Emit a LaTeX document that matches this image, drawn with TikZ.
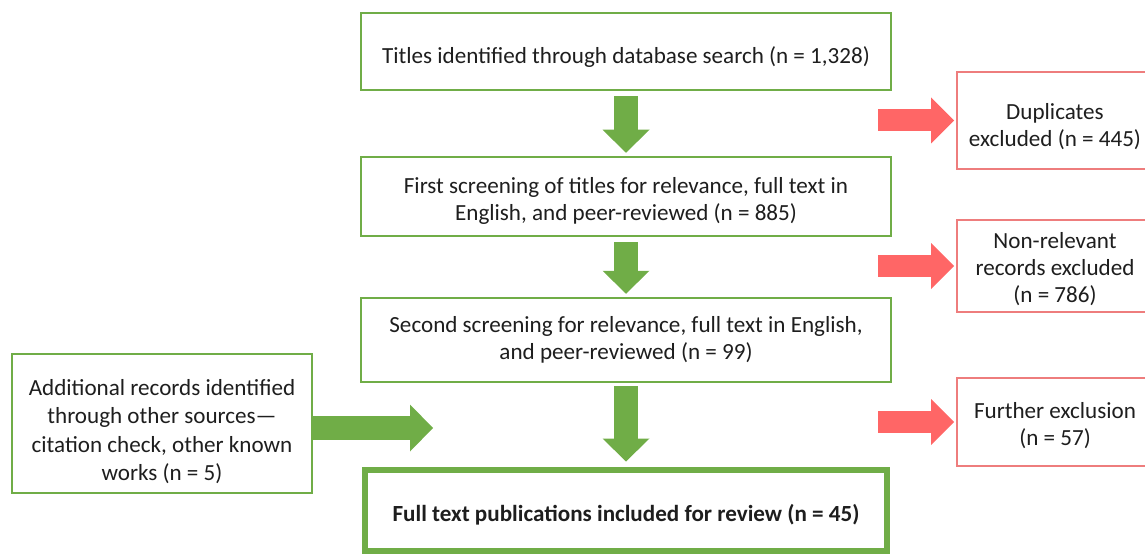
\documentclass[tikz,border=0pt]{standalone}
\usepackage{fontspec}
\setmainfont{Carlito}
\usetikzlibrary{arrows.meta}
\definecolor{flowgreen}{RGB}{112,173,71}
\definecolor{flowred}{RGB}{255,102,102}
\definecolor{boxred}{RGB}{238,125,125}
\definecolor{flowtext}{RGB}{30,30,30}
\tikzset{
  stagebox/.style={draw=flowgreen, line width=2.5pt, fill=white, align=center,
    text=flowtext, inner sep=0pt, font=\fontsize{23.1}{27.5}\selectfont},
  finalbox/.style={stagebox, line width=6pt, font=\fontsize{23.1}{27.5}\selectfont\bfseries},
  dropbox/.style={draw=boxred, line width=2pt, fill=white, align=center,
    text=flowtext, inner sep=0pt, font=\fontsize{23.1}{27}\selectfont},
  lower/.style={execute at begin node={\rule{0pt}{#1}}},
  garrow/.style={flowgreen, line width=24pt,
    -{Triangle[width=47pt, length=23pt, line width=0pt]}},
  rarrow/.style={flowred, line width=22pt,
    -{Triangle[width=46pt, length=23pt, line width=0pt]}}
}
\begin{document}
\begin{tikzpicture}[x=1pt, y=-1pt]
\useasboundingbox (0,0) rectangle (1145,556);

\node[stagebox, lower=27pt, minimum width=530pt, minimum height=77pt] (search) at (626,51.5)
  {Titles identified through database search (n = 1,328)};
\node[stagebox, lower=52pt, minimum width=530pt, minimum height=79pt] (first) at (626,196.5)
  {First screening of titles for relevance, full text in\\English, and peer-reviewed (n = 885)};
\node[stagebox, minimum width=530pt, minimum height=84pt] (second) at (626,340)
  {Second screening for relevance, full text in English,\\and peer-reviewed (n = 99)};
\node[finalbox, lower=26pt, minimum width=522pt, minimum height=81pt] (final) at (626,510)
  {Full text publications included for review (n = 45)};
\node[stagebox, lower=118pt, font=\fontsize{23.1}{28.5}\selectfont,
  minimum width=300pt, minimum height=139pt] (other) at (162,423.5)
  {Additional records identified\\through other sources---\\citation check, other known\\works (n = 5)};

\node[dropbox, lower=56pt, minimum width=196pt, minimum height=97pt] (dup) at (1055,120.5)
  {Duplicates\\excluded (n = 445)};
\node[dropbox, lower=77pt, minimum width=196pt, minimum height=92pt] (nonrel) at (1055,266)
  {Non-relevant\\records excluded\\(n = 786)};
\node[dropbox, lower=50pt, minimum width=196pt, minimum height=88pt] (further) at (1055,422)
  {Further exclusion\\(n = 57)};

\coordinate (redstart) at (878,0);
\coordinate (merge) at (433,428);

\draw[garrow, shorten <=5pt, shorten >=3pt] (search) -- (first);
\draw[garrow, shorten <=5pt, shorten >=3pt] (first) -- (second);
\draw[garrow, shorten <=3pt, shorten >=5pt] (second) -- (final);
\draw[garrow] (other.east |- merge) -- (merge);

\draw[rarrow, shorten >=2pt] (redstart |- dup.west) -- (dup.west);
\draw[rarrow, shorten >=2pt] (redstart |- nonrel.west) -- (nonrel.west);
\draw[rarrow, shorten >=2pt] (redstart |- further.west) -- (further.west);
\end{tikzpicture}
\end{document}
